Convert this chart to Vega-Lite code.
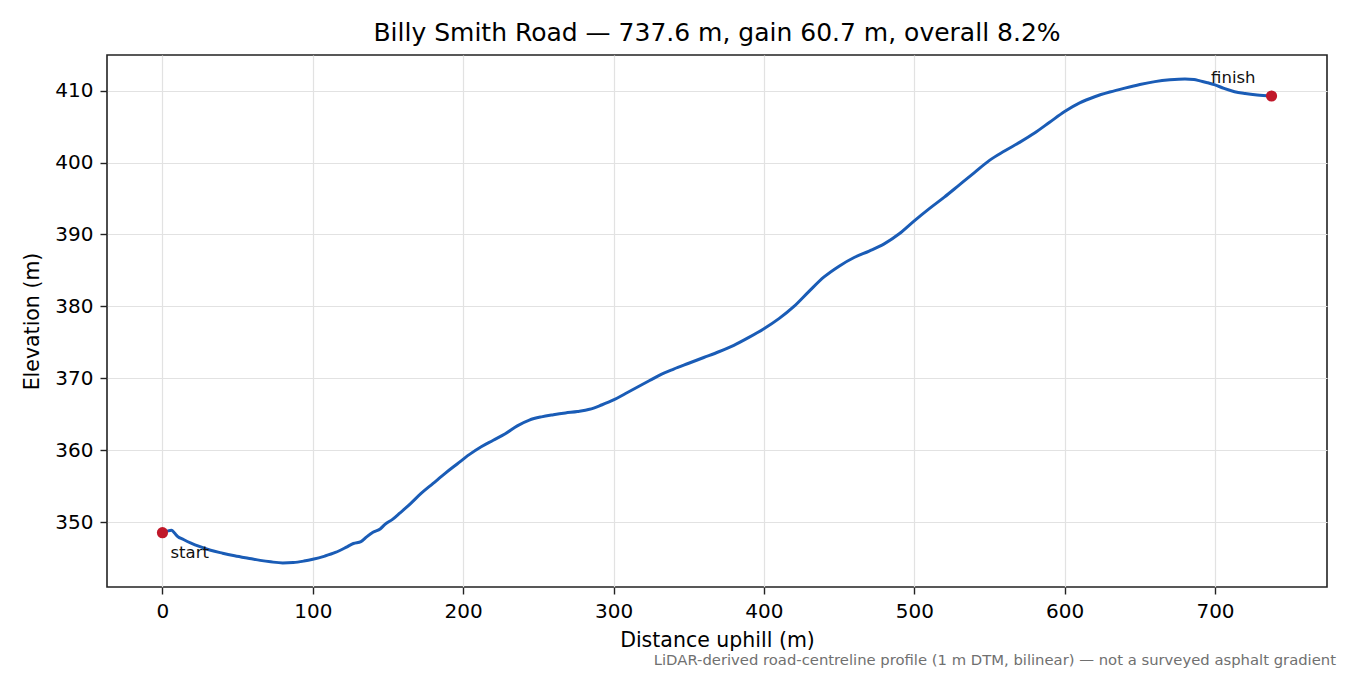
{
  "$schema": "https://vega.github.io/schema/vega-lite/v6.json",
  "width": 1220,
  "height": 532,
  "autosize": "none",
  "padding": {"left": 107, "top": 55, "right": 23, "bottom": 88},
  "background": "white",
  "title": {"text": "Billy Smith Road — 737.6 m, gain 60.7 m, overall 8.2%", "font": "DejaVu Sans", "fontSize": 25, "fontWeight": "normal", "color": "black", "anchor": "middle", "offset": 9},
  "config": {
    "font": "DejaVu Sans",
    "view": {"stroke": "#222222", "strokeWidth": 1.6},
    "axis": {"domain": false, "grid": true, "gridColor": "#e2e2e2", "gridWidth": 1.2, "tickColor": "#222222", "tickSize": 7, "tickWidth": 1.4, "labelFont": "DejaVu Sans", "labelFontSize": 20, "labelColor": "black", "labelPadding": 7, "titleFont": "DejaVu Sans", "titleFontSize": 20.5, "titleFontWeight": "normal", "titleColor": "black"}
  },
  "datasets": {
    "profile": [
      {"d": 0, "e": 348.55}, {"d": 3, "e": 348.75}, {"d": 6, "e": 348.9}, {"d": 8, "e": 348.5},
      {"d": 10, "e": 348.05}, {"d": 14, "e": 347.6}, {"d": 19, "e": 347.1}, {"d": 25, "e": 346.6},
      {"d": 32, "e": 346.1}, {"d": 40, "e": 345.7}, {"d": 48, "e": 345.35}, {"d": 57, "e": 345.0},
      {"d": 65, "e": 344.7}, {"d": 72, "e": 344.5}, {"d": 80, "e": 344.35}, {"d": 87, "e": 344.4},
      {"d": 94, "e": 344.6}, {"d": 100, "e": 344.85}, {"d": 108, "e": 345.3}, {"d": 115, "e": 345.8},
      {"d": 122, "e": 346.5}, {"d": 127, "e": 347.05}, {"d": 132, "e": 347.3}, {"d": 136, "e": 348.0},
      {"d": 140, "e": 348.6}, {"d": 145, "e": 349.1}, {"d": 148, "e": 349.7}, {"d": 153, "e": 350.4},
      {"d": 158, "e": 351.3}, {"d": 165, "e": 352.6}, {"d": 172, "e": 354.0}, {"d": 180, "e": 355.4},
      {"d": 188, "e": 356.8}, {"d": 196, "e": 358.1}, {"d": 204, "e": 359.4}, {"d": 212, "e": 360.5},
      {"d": 220, "e": 361.4}, {"d": 228, "e": 362.3}, {"d": 236, "e": 363.4}, {"d": 244, "e": 364.2},
      {"d": 252, "e": 364.65}, {"d": 260, "e": 364.95}, {"d": 268, "e": 365.2}, {"d": 276, "e": 365.4},
      {"d": 284, "e": 365.7}, {"d": 292, "e": 366.3}, {"d": 300, "e": 367.0}, {"d": 308, "e": 367.9},
      {"d": 316, "e": 368.8}, {"d": 324, "e": 369.7}, {"d": 332, "e": 370.6}, {"d": 340, "e": 371.3},
      {"d": 350, "e": 372.1}, {"d": 360, "e": 372.9}, {"d": 370, "e": 373.7}, {"d": 380, "e": 374.6},
      {"d": 390, "e": 375.7}, {"d": 400, "e": 376.9}, {"d": 410, "e": 378.3}, {"d": 420, "e": 380.0},
      {"d": 430, "e": 382.1}, {"d": 440, "e": 384.1}, {"d": 450, "e": 385.6}, {"d": 460, "e": 386.8},
      {"d": 470, "e": 387.7}, {"d": 480, "e": 388.7}, {"d": 490, "e": 390.1}, {"d": 500, "e": 391.9},
      {"d": 510, "e": 393.6}, {"d": 520, "e": 395.2}, {"d": 530, "e": 396.9}, {"d": 540, "e": 398.6},
      {"d": 550, "e": 400.3}, {"d": 560, "e": 401.6}, {"d": 570, "e": 402.8}, {"d": 580, "e": 404.1},
      {"d": 590, "e": 405.6}, {"d": 600, "e": 407.1}, {"d": 610, "e": 408.3}, {"d": 620, "e": 409.15},
      {"d": 630, "e": 409.8}, {"d": 640, "e": 410.35}, {"d": 650, "e": 410.85}, {"d": 660, "e": 411.25},
      {"d": 670, "e": 411.5}, {"d": 680, "e": 411.62}, {"d": 686, "e": 411.55}, {"d": 690, "e": 411.35},
      {"d": 695, "e": 411.1}, {"d": 700, "e": 410.8}, {"d": 706, "e": 410.3}, {"d": 713, "e": 409.85},
      {"d": 720, "e": 409.6}, {"d": 728, "e": 409.4}, {"d": 737.6, "e": 409.25}
    ],
    "ends": [
      {"d": 0, "e": 348.55, "label": "start"},
      {"d": 737.6, "e": 409.25, "label": "finish"}
    ],
    "note": [
      {"text": "LiDAR-derived road-centreline profile (1 m DTM, bilinear) — not a surveyed asphalt gradient"}
    ]
  },
  "layer": [
    {
      "data": {"name": "profile"},
      "mark": {"type": "line", "color": "#1a5cb6", "strokeWidth": 3, "interpolate": "monotone"},
      "encoding": {
        "x": {"field": "d", "type": "quantitative", "scale": {"domain": [-36.88, 774.48], "nice": false, "zero": false},
              "axis": {"values": [0, 100, 200, 300, 400, 500, 600, 700], "title": "Distance uphill (m)", "titlePadding": 9}},
        "y": {"field": "e", "type": "quantitative", "scale": {"domain": [341.0, 414.95], "nice": false, "zero": false},
              "axis": {"values": [350, 360, 370, 380, 390, 400, 410], "title": "Elevation (m)", "titlePadding": 12}}
      }
    },
    {
      "data": {"name": "ends"},
      "mark": {"type": "circle", "color": "#c0182a", "opacity": 1, "size": 125},
      "encoding": {
        "x": {"field": "d", "type": "quantitative"},
        "y": {"field": "e", "type": "quantitative"}
      }
    },
    {
      "data": {"name": "ends"},
      "transform": [{"filter": "datum.label == 'start'"}],
      "mark": {"type": "text", "align": "left", "baseline": "alphabetic", "dx": 8, "dy": 25, "fontSize": 16.5, "color": "#111111"},
      "encoding": {
        "x": {"field": "d", "type": "quantitative"},
        "y": {"field": "e", "type": "quantitative"},
        "text": {"field": "label"}
      }
    },
    {
      "data": {"name": "ends"},
      "transform": [{"filter": "datum.label == 'finish'"}],
      "mark": {"type": "text", "align": "right", "baseline": "alphabetic", "dx": -16, "dy": -13, "fontSize": 16.5, "color": "#111111"},
      "encoding": {
        "x": {"field": "d", "type": "quantitative"},
        "y": {"field": "e", "type": "quantitative"},
        "text": {"field": "label"}
      }
    },
    {
      "data": {"name": "note"},
      "mark": {"type": "text", "align": "right", "baseline": "alphabetic", "dx": 9, "dy": 78, "fontSize": 14.8, "color": "#707070"},
      "encoding": {
        "x": {"datum": 774.48, "type": "quantitative"},
        "y": {"datum": 341.0, "type": "quantitative"},
        "text": {"field": "text"}
      }
    }
  ]
}
